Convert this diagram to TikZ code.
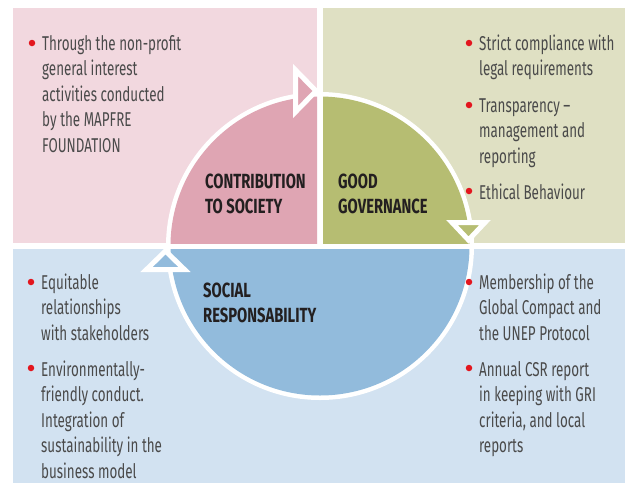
\documentclass[tikz,border=0pt]{standalone}
\usepackage{fontspec}
\setmainfont{Fira Sans}
\newfontfamily\bodyfont{Fira Sans}[FakeStretch=0.67]
\newfontfamily\labelfont{Fira Sans}[FakeStretch=0.72]
\definecolor{pinklight}{HTML}{F2D8DF}
\definecolor{pinkdark}{HTML}{DFA5B3}
\definecolor{greenlight}{HTML}{DFE0C3}
\definecolor{greendark}{HTML}{B6BD72}
\definecolor{bluelight}{HTML}{D2E2F1}
\definecolor{bluedark}{HTML}{92BBDC}
\definecolor{bulletred}{HTML}{E3161E}
\definecolor{txtgray}{HTML}{4A4A4A}
\definecolor{lblcol}{HTML}{231F20}
\begin{document}
\begin{tikzpicture}[x=1pt,y=-1pt,
  bodytext/.style={anchor=base west, inner sep=0pt, align=left, text=txtgray,
    font=\bodyfont\fontsize{20}{25.6}\selectfont},
  labeltext/.style={anchor=base west, inner sep=0pt, align=left, text=lblcol,
    font=\labelfont\bfseries\fontsize{20.5}{25}\selectfont},
  bullet/.style={circle, fill=bulletred, minimum size=6.5pt, inner sep=0pt},
  arrowtri/.style={draw=white, line width=5pt, line join=miter, miter limit=10},
]
\useasboundingbox (0,0) rectangle (630,483);
\fill[white] (0,0) rectangle (630,483);
% panels
\fill[pinklight] (13,8) rectangle (317,243);
\fill[greenlight] (323,8) rectangle (625,243);
\fill[bluelight] (13,249) rectangle (625,483);
% circle
\coordinate (c) at (320,246);
\fill[white] (c) circle[radius=154pt];
\begin{scope}
  \clip (13,8) rectangle (317,243);
  \fill[pinkdark] (c) circle[radius=149.5pt];
\end{scope}
\begin{scope}
  \clip (323,8) rectangle (625,243);
  \fill[greendark] (c) circle[radius=149.5pt];
\end{scope}
\begin{scope}
  \clip (13,249) rectangle (625,483);
  \fill[bluedark] (c) circle[radius=149.5pt];
\end{scope}
% arrow heads
\filldraw[arrowtri, fill=pinkdark] (295.5,70) -- (295.5,112) -- (316,91) -- cycle;
\filldraw[arrowtri, fill=greendark] (452,222.5) -- (485,222.5) -- (468.5,240) -- cycle;
\filldraw[arrowtri, fill=bluedark] (146.5,269.5) -- (184.5,269.5) -- (165.5,251) -- cycle;
% labels (anchor = baseline of last line)
\node[labeltext] (lc) at (205,213) {CONTRIBUTION\\TO SOCIETY};
\node[labeltext] (lg) at (338,213) {GOOD\\GOVERNANCE};
\node[labeltext] (ls) at (203,322) {SOCIAL\\RESPONSABILITY};
% pink bullets
\node[bullet] (b1) at (32,43) {};
\node[bodytext] (t1) at (42,152.4) {Through the non-profit\\general interest\\activities conducted\\by the MAPFRE\\FOUNDATION};
% green bullets
\node[bullet] (b2) at (469,43) {};
\node[bodytext] (t2) at (479,75.6) {Strict compliance with\\legal requirements};
\node[bullet] (b3) at (469,105) {};
\node[bodytext] (t3) at (479,163.2) {Transparency –\\management and\\reporting};
\node[bullet] (b4) at (469,191) {};
\node[bodytext] (t4) at (479,199) {Ethical Behaviour};
% blue left
\node[bullet] (b5) at (31,282) {};
\node[bodytext] (t5) at (41,340.2) {Equitable\\relationships\\with stakeholders};
\node[bullet] (b6) at (31,368) {};
\node[bodytext] (t6) at (41,478.4) {Environmentally-\\friendly conduct.\\Integration of\\sustainability in the\\business model};
% blue right
\node[bullet] (b7) at (469,282) {};
\node[bodytext] (t7) at (479,340.2) {Membership of the\\Global Compact and\\the UNEP Protocol};
\node[bullet] (b8) at (469,368) {};
\node[bodytext] (t8) at (479,452.8) {Annual CSR report\\in keeping with GRI\\criteria, and local\\reports};
\end{tikzpicture}
\end{document}
